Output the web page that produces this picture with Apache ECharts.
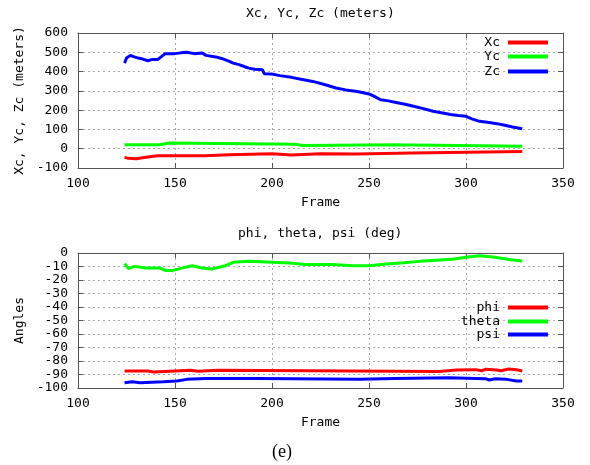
<!DOCTYPE html>
<html>
<head>
<meta charset="utf-8">
<script src="https://cdn.jsdelivr.net/npm/echarts@6/dist/echarts.min.js"></script>
<style>
  html, body { margin: 0; padding: 0; background: #fff; }
  #chart { width: 590px; height: 465px; }
</style>
</head>
<body>
<div id="chart"></div>
<script>
// [frame, value]
const xc = [[124,-45],[126,-50],[130,-52],[135,-44],[141,-36],[149,-36],[165,-36],[166,-31],[178,-31],[179,-26],[200,-26],[201,-33],[210,-33],[211,-26],[225,-26],[226,-28],[243,-28],[244,-22],[272,-22],[273,-14],[329,-14]];
const yc = [[124,21],[142,21],[143,30],[147,30],[148,23],[212,23],[213,17],[216,17],[217,21],[265,21],[266,16],[268,19],[273,19],[274,13],[329,13]];
const zc = [[124,444],[125,470],[127,484],[129,476],[131,470],[133,466],[136,456],[138,462],[141,462],[142,470],[145,493],[150,493],[153,497],[156,500],[160,493],[164,496],[166,484],[171,476],[174,468],[178,453],[180,444],[183,436],[186,425],[188,418],[191,412],[195,410],[196,389],[200,387],[204,379],[210,370],[215,360],[221,349],[227,333],[233,315],[238,305],[244,297],[250,284],[253,270],[256,254],[260,248],[264,240],[268,232],[273,220],[278,208],[283,194],[288,185],[292,177],[296,172],[300,168],[303,155],[307,142],[312,136],[316,130],[320,122],[324,113],[329,104]];

const phi = [[124,-87.4],[136,-87.4],[137,-88.1],[139,-88.1],[140,-86.9],[158,-86.9],[159,-87.6],[162,-87.6],[163,-86.9],[172,-86.9],[173,-87.8],[286,-87.8],[287,-86.6],[295,-86.6],[296,-86.2],[305,-86.4],[308,-87.2],[310,-86.2],[316,-86.6],[318,-87.2],[322,-85.9],[326,-86.4],[327,-87.4],[329,-87.4]];
const theta = [[124,-7.9],[126,-11.6],[129,-9.9],[135,-11.1],[142,-11.1],[145,-12.9],[149,-12.9],[154,-11],[159,-9.4],[164,-11.1],[169,-11.9],[176,-9.4],[180,-6.9],[188,-6.2],[200,-6.8],[209,-7.4],[217,-8.6],[231,-8.6],[242,-9.4],[250,-9.4],[259,-8.2],[268,-7.2],[276,-6.2],[285,-5.3],[294,-4.5],[300,-3.2],[307,-2],[314,-3],[323,-5],[329,-5.9]];
const psi = [[124,-96.1],[128,-95.4],[132,-96.1],[144,-95.3],[151,-94.8],[156,-93.6],[166,-92.9],[193,-92.9],[194,-94.1],[245,-93.6],[246,-92.9],[263,-92.9],[264,-92.4],[291,-92.4],[292,-93.1],[310,-93.1],[312,-94.1],[315,-93.1],[321,-93.6],[326,-94.8],[329,-94.8]];

const xTicks = { min: 100, max: 350, interval: 50 };
const yTop = { min: -100, max: 600, interval: 100 };
const yBottom = { min: -100, max: 0, interval: 10 };

const mono = "DejaVu Sans Mono";
const frameColor = "#555";
const gridColor = "#aaa";
const red = "#ff0000", green = "#00ff00", blue = "#0000ff";

function xAxis(grid, mirror) {
  return {
    type: "value", gridIndex: grid, position: mirror ? "top" : "bottom",
    min: xTicks.min, max: xTicks.max, interval: xTicks.interval,
    name: mirror ? "" : "Frame", nameLocation: "middle", nameGap: 28,
    nameTextStyle: { fontFamily: mono, fontSize: 13, color: "#000" },
    axisLine: { show: true, onZero: false, lineStyle: { color: frameColor, width: 1 } },
    axisTick: { show: true, inside: true, length: 5, lineStyle: { color: frameColor } },
    axisLabel: { show: !mirror, fontFamily: mono, fontSize: 13, color: "#000", margin: 9 },
    splitLine: { show: !mirror, lineStyle: { color: gridColor, width: 1, type: [2, 3] } }
  };
}
function yAxis(grid, mirror, range, name) {
  return {
    type: "value", gridIndex: grid, position: mirror ? "right" : "left",
    min: range.min, max: range.max, interval: range.interval,
    name: mirror ? "" : name, nameLocation: "middle", nameGap: 50,
    nameTextStyle: { fontFamily: mono, fontSize: 13, color: "#000" },
    axisLine: { show: true, onZero: false, lineStyle: { color: frameColor, width: 1 } },
    axisTick: { show: true, inside: true, length: 5, lineStyle: { color: frameColor } },
    axisLabel: { show: !mirror, fontFamily: mono, fontSize: 13, color: "#000", margin: 10 },
    splitLine: { show: !mirror, lineStyle: { color: gridColor, width: 1, type: [2, 3] } }
  };
}
function legend(name, top) {
  return {
    data: [name], right: 42, top: top, padding: 0, orient: "vertical",
    align: "right", icon: "rect", itemWidth: 40, itemHeight: 4, itemGap: 0,
    selectedMode: false,
    textStyle: { fontFamily: mono, fontSize: 13, color: "#000", padding: [0, 3, 0, 0] }
  };
}
function line(name, data, color, ax) {
  return {
    name: name, type: "line", data: data, xAxisIndex: ax, yAxisIndex: ax,
    showSymbol: false, symbol: "none", animation: false, z: 3,
    itemStyle: { color: color },
    lineStyle: { color: color, width: 3 }
  };
}

const chart = echarts.init(document.getElementById("chart"), null, { renderer: "canvas" });
chart.setOption({
  backgroundColor: "#fff",
  animation: false,
  grid: [
    { left: 78, right: 27, top: 33, height: 135 },
    { left: 78, right: 27, top: 253, height: 135 }
  ],
  xAxis: [xAxis(0, false), xAxis(0, true), xAxis(1, false), xAxis(1, true)],
  yAxis: [
    yAxis(0, false, yTop, "Xc, Yc, Zc (meters)"), yAxis(0, true, yTop),
    yAxis(1, false, yBottom, "Angles"), yAxis(1, true, yBottom)
  ],
  legend: [
    legend("Xc", 36), legend("Yc", 50), legend("Zc", 65),
    legend("phi", 301), legend("theta", 315), legend("psi", 328)
  ],
  graphic: [
    { type: "text", left: 246, top: 7, style: { text: "Xc, Yc, Zc (meters)", font: "13px " + mono, fill: "#000" } },
    { type: "text", left: 238, top: 227, style: { text: "phi, theta, psi (deg)", font: "13px " + mono, fill: "#000" } },
    { type: "text", left: 272, top: 443, style: { text: "(e)", font: "18px 'Liberation Serif'", fill: "#000" } }
  ],
  series: [
    line("Xc", xc, red, 0), line("Yc", yc, green, 0), line("Zc", zc, blue, 0),
    line("phi", phi, red, 2), line("theta", theta, green, 2), line("psi", psi, blue, 2)
  ]
});
</script>
</body>
</html>
